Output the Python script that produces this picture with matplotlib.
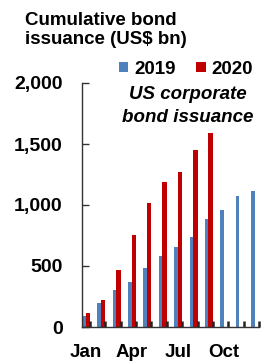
import numpy as np
import matplotlib.pyplot as plt

plt.rcParams["font.family"] = ["Liberation Sans", "DejaVu Sans"]

months = ["Jan", "Feb", "Mar", "Apr", "May", "Jun", "Jul", "Aug", "Sep", "Oct", "Nov", "Dec"]
issuance_2019 = [93, 199, 303, 371, 486, 582, 656, 738, 883, 959, 1074, 1115]
issuance_2020 = [117, 221, 470, 754, 1014, 1191, 1273, 1451, 1590]
label_months = ["Jan", "Apr", "Jul", "Oct"]
yticks = [0, 500, 1000, 1500, 2000]

BLUE = "#4F81BD"
RED = "#C00000"
FS = 13.5

fig = plt.figure(figsize=(2.61, 3.63), dpi=100)
ax = fig.add_axes([82 / 261, 1 - 327 / 363, 177 / 261, 244 / 363])

x = np.arange(len(months))
wb, wr = 0.23, 0.29
ax.bar(x - wr, issuance_2019, width=-wb, align="edge", color=BLUE, label="2019")
ax.bar(x[:len(issuance_2020)], issuance_2020, width=-wr, align="edge", color=RED, label="2020")

ax.set_xlim(-wr - wb, 11)
ax.set_ylim(0, 2000)

for s in ["top", "right"]:
    ax.spines[s].set_visible(False)
for s in ["left", "bottom"]:
    ax.spines[s].set_color("#333333")
    ax.spines[s].set_linewidth(1.0)

ax.set_yticks(yticks)
ax.set_yticklabels([f"{v:,}" for v in yticks], fontsize=14, fontweight="bold")
ax.tick_params(axis="y", direction="in", length=5, width=1, color="#333333", pad=14)

pos = [months.index(m) - wr + 0.03 for m in label_months]
ax.set_xticks(pos)
ax.set_xticklabels(label_months, fontsize=FS, fontweight="bold")
ax.tick_params(axis="x", which="major", length=0, pad=12)
ax.set_xticks(x, minor=True)
ax.tick_params(axis="x", which="minor", direction="in", length=4, width=1.8, color="#222222")

fig.text(25 / 261, 1 - 12 / 363, "Cumulative bond\nissuance (US$ bn)", fontsize=FS,
         fontweight="bold", va="top", ha="left", linespacing=1.17)

fig.legend(*ax.get_legend_handles_labels(), loc="center left",
           bbox_to_anchor=(119 / 261, 1 - 69 / 363), ncol=2, frameon=False,
           prop={"size": FS, "weight": "bold"}, handlelength=0.5, handleheight=0.5,
           handletextpad=0.3, columnspacing=1.1, borderpad=0, borderaxespad=0)

fig.text(188 / 261, 1 - 106 / 363, "US corporate\nbond issuance", fontsize=FS,
         fontweight="bold", style="italic", ha="center", va="center", linespacing=1.45)

fig.savefig("out.png", dpi=100)
